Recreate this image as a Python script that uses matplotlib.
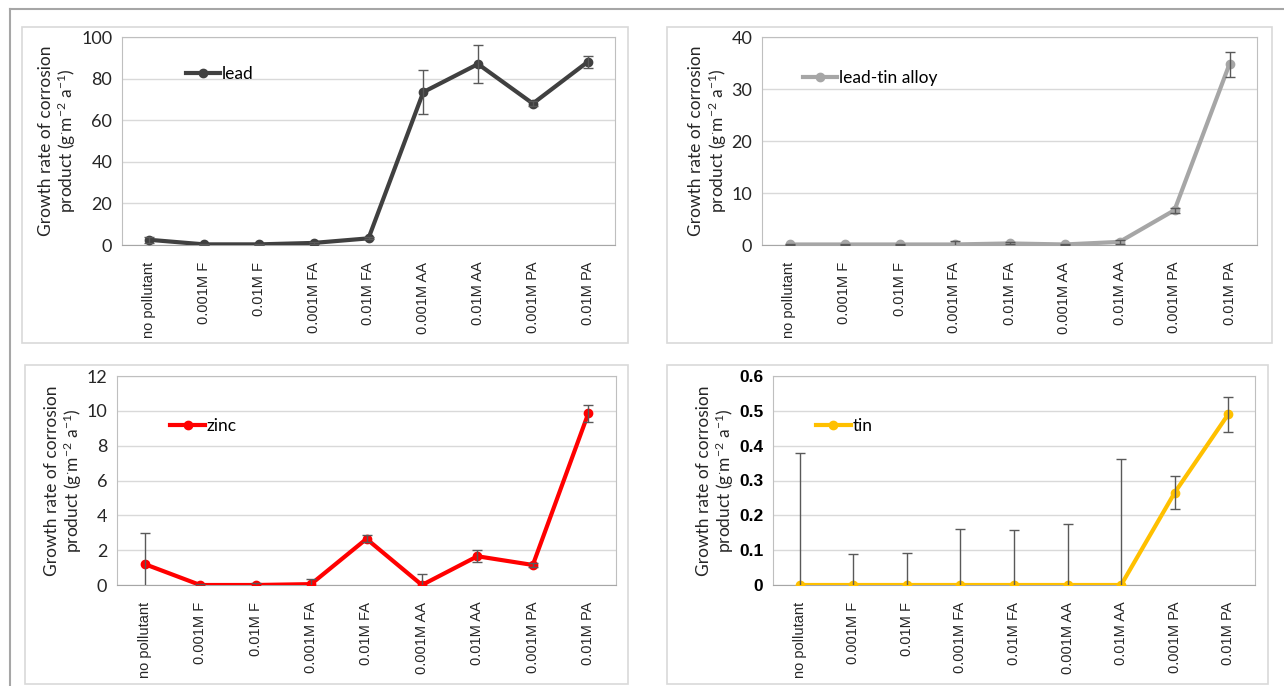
import matplotlib
matplotlib.use('Agg')
import matplotlib.pyplot as plt
from matplotlib.patches import Rectangle
from matplotlib.lines import Line2D
import numpy as np

categories = ['no pollutant', '0.001M F', '0.01M F', '0.001M FA', '0.01M FA',
              '0.001M AA', '0.01M AA', '0.001M PA', '0.01M PA']

lead = [2.5, 0.3, 0.3, 1.0, 3.2, 73.5, 87.0, 68.0, 88.0]
lead_err = [1.5, 0.3, 0.3, 0.5, 0.5, 10.5, 9.3, 1.0, 3.0]

leadtin = [0.1, 0.1, 0.1, 0.1, 0.3, 0.1, 0.6, 6.7, 34.8]
leadtin_err = [0.1, 0.1, 0.1, 0.6, 0.2, 0.1, 0.4, 0.5, 2.4]

zinc = [1.2, 0.0, 0.0, 0.05, 2.65, 0.0, 1.65, 1.15, 9.85]
zinc_err = [1.8, 0.05, 0.1, 0.3, 0.2, 0.65, 0.35, 0.1, 0.5]

tin = [0.0, 0.0, 0.0, 0.0, 0.0, 0.0, 0.0, 0.265, 0.49]
tin_err = [0.38, 0.09, 0.093, 0.162, 0.157, 0.175, 0.362, 0.048, 0.05]

W, H = 1284, 686
plt.rcParams['font.family'] = ['Lato', 'DejaVu Sans']
plt.rcParams['mathtext.fontset'] = 'custom'
plt.rcParams['mathtext.rm'] = 'Lato'
plt.rcParams['mathtext.it'] = 'Lato'

fig = plt.figure(figsize=(W / 100, H / 100), dpi=100)


def px_rect(l, t, r, b):
    return [l / W, 1 - b / H, (r - l) / W, (b - t) / H]


# outer frame lines
fig.add_artist(Line2D([10 / W, 1], [1 - 9 / H, 1 - 9 / H], color='#a6a6a6', lw=1.5))
fig.add_artist(Line2D([10 / W, 10 / W], [0, 1 - 9 / H], color='#a6a6a6', lw=1.5))

# chart boxes
for box in [(22, 27, 628, 343), (667, 27, 1272, 343), (25, 365, 628, 684), (667, 365, 1268, 684)]:
    l, b, w, h = px_rect(*box)
    fig.add_artist(Rectangle((l, b), w, h, transform=fig.transFigure, fill=False,
                             edgecolor='#d9d9d9', lw=1.2))

panels = [
    (px_rect(122, 37, 615, 245), lead, lead_err, 'lead', '#404040', (0, 100), 20, (0.115, 0.895), False),
    (px_rect(762, 37, 1257, 245), leadtin, leadtin_err, 'lead-tin alloy', '#a6a6a6', (0, 40), 10, (0.068, 0.875), False),
    (px_rect(117, 376, 616, 585), zinc, zinc_err, 'zinc', '#ff0000', (0, 12), 2, (0.093, 0.83), False),
    (px_rect(773, 376, 1255, 585), tin, tin_err, 'tin', '#ffc000', (0, 0.6), 0.1, (0.075, 0.83), True),
]

x = np.arange(len(categories))
for rect, vals, errs, name, color, ylim, step, legpos, arial in panels:
    ax = fig.add_axes(rect)
    ax.errorbar(x, vals, yerr=errs, fmt='none', ecolor='#595959', elinewidth=1,
                capsize=3.5, capthick=1, zorder=4)
    ax.plot(x, vals, color=color, lw=3, marker='o', ms=6, label=name, zorder=3)
    ax.set_xlim(-0.5, len(categories) - 0.5)
    ax.set_ylim(*ylim)
    ticks = np.arange(ylim[0], ylim[1] + step / 2, step)
    ax.set_yticks(ticks)
    if arial:
        ax.set_yticklabels(['0' if t == 0 else f'{t:.1f}' for t in ticks],
                           fontsize=12.5, fontweight='bold', family='Liberation Sans')
    else:
        ax.set_yticklabels([f'{t:g}' for t in ticks], fontsize=13, color='#262626')
    ax.set_xticks(x)
    ax.set_xticklabels(categories, rotation=90, fontsize=10.5,
                       family='Liberation Sans', color='#262626')
    ax.tick_params(axis='y', length=0, pad=7)
    ax.tick_params(axis='x', length=0, pad=12)
    ax.grid(axis='y', color='#d9d9d9', lw=1)
    ax.set_axisbelow(True)
    for s in ['top', 'right', 'left']:
        ax.spines[s].set_color('#bfbfbf')
    ax.spines['bottom'].set_color('#a6a6a6')
    ax.set_ylabel('Growth rate of corrosion\nproduct (g$^{\\cdot}$m$^{-2}$ a$^{-1}$)',
                  fontsize=12.5, color='#262626', labelpad=2, linespacing=1.1)
    ax.legend(loc='upper left', bbox_to_anchor=legpos, frameon=False, fontsize=12.5,
              handlelength=2.0, handletextpad=0.1, borderaxespad=0)

plt.savefig('out.png', dpi=100)
